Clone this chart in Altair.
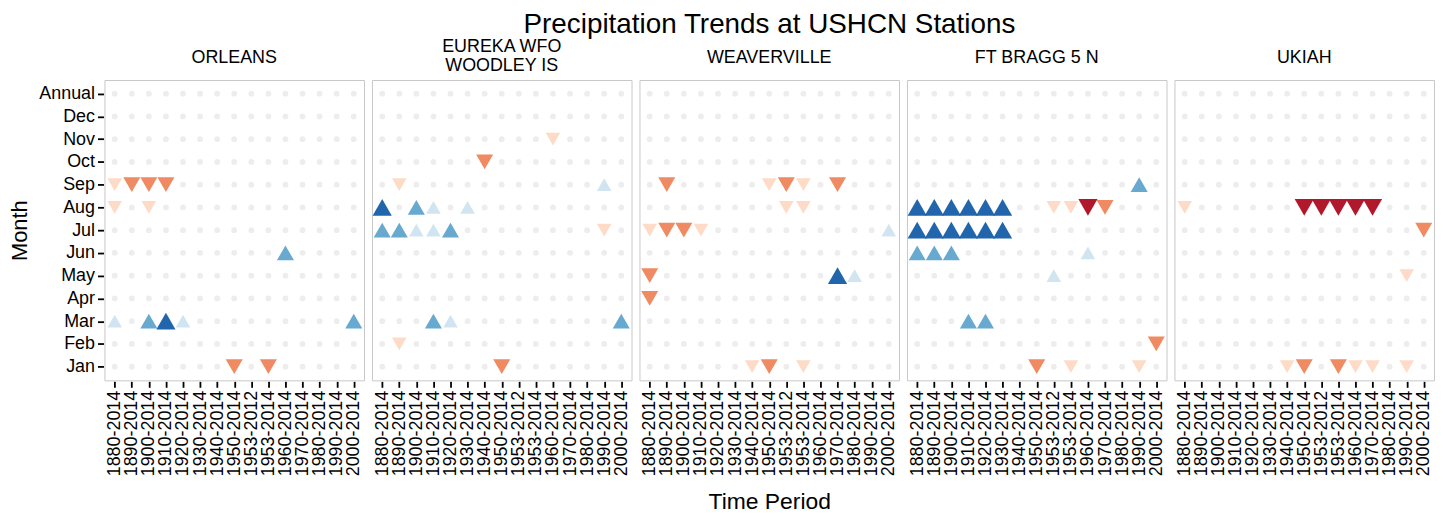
import altair as alt
import pandas as pd

stations = ["ORLEANS", "EUREKA WFO|WOODLEY IS", "WEAVERVILLE", "FT BRAGG 5 N", "UKIAH"]
periods = ["1880-2014", "1890-2014", "1900-2014", "1910-2014", "1920-2014",
           "1930-2014", "1940-2014", "1950-2014", "1953-2012", "1953-2014",
           "1960-2014", "1970-2014", "1980-2014", "1990-2014", "2000-2014"]
months = ["Jan", "Feb", "Mar", "Apr", "May", "Jun", "Jul", "Aug", "Sep",
          "Oct", "Nov", "Dec", "Annual"]

# (month, period, trend class): sign = direction (+ up / - down), magnitude = strength 1..3
orleans = [
    ("Sep", "1880-2014", -1), ("Sep", "1890-2014", -2), ("Sep", "1900-2014", -2), ("Sep", "1910-2014", -2),
    ("Aug", "1880-2014", -1), ("Aug", "1900-2014", -1),
    ("Jun", "1960-2014", 2),
    ("Mar", "1880-2014", 1), ("Mar", "1900-2014", 2), ("Mar", "1910-2014", 3), ("Mar", "1920-2014", 1),
    ("Mar", "2000-2014", 2),
    ("Jan", "1950-2014", -2), ("Jan", "1953-2014", -2),
]
eureka = [
    ("Nov", "1960-2014", -1),
    ("Oct", "1940-2014", -2),
    ("Sep", "1890-2014", -1), ("Sep", "1990-2014", 1),
    ("Aug", "1880-2014", 3), ("Aug", "1900-2014", 2), ("Aug", "1910-2014", 1), ("Aug", "1930-2014", 1),
    ("Jul", "1880-2014", 2), ("Jul", "1890-2014", 2), ("Jul", "1900-2014", 1), ("Jul", "1910-2014", 1),
    ("Jul", "1920-2014", 2), ("Jul", "1990-2014", -1),
    ("Mar", "1910-2014", 2), ("Mar", "1920-2014", 1), ("Mar", "2000-2014", 2),
    ("Feb", "1890-2014", -1),
    ("Jan", "1950-2014", -2),
]
weaverville = [
    ("Sep", "1890-2014", -2), ("Sep", "1950-2014", -1), ("Sep", "1953-2012", -2), ("Sep", "1953-2014", -1),
    ("Sep", "1970-2014", -2),
    ("Aug", "1953-2012", -1), ("Aug", "1953-2014", -1),
    ("Jul", "1880-2014", -1), ("Jul", "1890-2014", -2), ("Jul", "1900-2014", -2), ("Jul", "1910-2014", -1),
    ("Jul", "2000-2014", 1),
    ("May", "1880-2014", -2), ("May", "1970-2014", 3), ("May", "1980-2014", 1),
    ("Apr", "1880-2014", -2),
    ("Jan", "1940-2014", -1), ("Jan", "1950-2014", -2), ("Jan", "1953-2014", -1),
]
ftbragg = [
    ("Sep", "1990-2014", 2),
    ("Aug", "1880-2014", 3), ("Aug", "1890-2014", 3), ("Aug", "1900-2014", 3), ("Aug", "1910-2014", 3),
    ("Aug", "1920-2014", 3), ("Aug", "1930-2014", 3),
    ("Aug", "1953-2012", -1), ("Aug", "1953-2014", -1), ("Aug", "1960-2014", -3), ("Aug", "1970-2014", -2),
    ("Jul", "1880-2014", 3), ("Jul", "1890-2014", 3), ("Jul", "1900-2014", 3), ("Jul", "1910-2014", 3),
    ("Jul", "1920-2014", 3), ("Jul", "1930-2014", 3),
    ("Jun", "1880-2014", 2), ("Jun", "1890-2014", 2), ("Jun", "1900-2014", 2), ("Jun", "1960-2014", 1),
    ("May", "1953-2012", 1),
    ("Mar", "1910-2014", 2), ("Mar", "1920-2014", 2),
    ("Feb", "2000-2014", -2),
    ("Jan", "1950-2014", -2), ("Jan", "1953-2014", -1), ("Jan", "1990-2014", -1),
]
ukiah = [
    ("Aug", "1880-2014", -1), ("Aug", "1950-2014", -3), ("Aug", "1953-2012", -3), ("Aug", "1953-2014", -3),
    ("Aug", "1960-2014", -3), ("Aug", "1970-2014", -3),
    ("Jul", "2000-2014", -2),
    ("May", "1990-2014", -1),
    ("Jan", "1940-2014", -1), ("Jan", "1950-2014", -2), ("Jan", "1953-2014", -2), ("Jan", "1960-2014", -1),
    ("Jan", "1970-2014", -1), ("Jan", "1990-2014", -1),
]
trends = [orleans, eureka, weaverville, ftbragg, ukiah]

class_levels = [-3, -2, -1, 1, 2, 3]
class_colors = ["#b2182b", "#ef8a62", "#fddbc7", "#d1e5f0", "#67a9cf", "#2166ac"]

rows = []
for st, tr in zip(stations, trends):
    lookup = {(m, p): v for m, p, v in tr}
    for m in months:
        for p in periods:
            v = lookup.get((m, p), 0)
            rows.append({
                "station": st, "month": m, "period": p, "level": v,
                "mag": abs(v), "dir": "up" if v > 0 else "down",
            })
df = pd.DataFrame(rows)

FONT = "Liberation Sans"
GRID = "#f0f0f0"
W, H = 261, 302

x_enc = alt.X("period:N", sort=periods,
              scale=alt.Scale(type="point", padding=0.6),
              axis=alt.Axis(title=None, labelAngle=270, labelFontSize=18,
                            labelColor="black", tickColor="black", tickSize=6,
                            tickWidth=1.8, labelPadding=3, domain=False,
                            gridColor=GRID, labelFont=FONT))
y_enc = alt.Y("month:N", sort=list(reversed(months)),
              scale=alt.Scale(type="point", padding=0.6),
              axis=alt.Axis(title="Month", titleFontSize=22, titleFontWeight="normal",
                            titleColor="black", titlePadding=7, titleFont=FONT,
                            labelFontSize=18, labelColor="black", tickColor="black",
                            tickSize=6, tickWidth=1.8, labelPadding=3, domain=False,
                            gridColor=GRID, labelFont=FONT))

bg = alt.Chart().mark_circle(color="#ededed", size=34, opacity=1).encode(x=x_enc, y=y_enc)

tri = alt.Chart().transform_filter("datum.level != 0").mark_point(
    filled=True, opacity=1, strokeWidth=0, clip=True
).encode(
    x=x_enc, y=y_enc,
    shape=alt.Shape("dir:N", scale=alt.Scale(domain=["up", "down"],
                                             range=["triangle-up", "triangle-down"]), legend=None),
    color=alt.Color("level:O", scale=alt.Scale(domain=class_levels, range=class_colors), legend=None),
    size=alt.Size("mag:O", scale=alt.Scale(domain=[1, 2, 3], range=[215, 373, 506]), legend=None),
)

# panel strip labels (one row per panel), drawn above each panel
one_row = "datum.month == 'Annual' && datum.period == '1880-2014'"
strip_base = alt.Chart().transform_filter(one_row).transform_calculate(
    line1="split(datum.station, '|')[0]",
    line2="length(split(datum.station, '|')) > 1 ? split(datum.station, '|')[1] : ''",
)
text_kw = dict(fontSize=18, font=FONT, color="black", align="center", baseline="middle")
strip_single = strip_base.transform_filter("indexof(datum.station, '|') < 0").mark_text(**text_kw).encode(
    x=alt.value(W / 2), y=alt.value(-22), text="line1:N")
strip_top = strip_base.transform_filter("indexof(datum.station, '|') >= 0").mark_text(**text_kw).encode(
    x=alt.value(W / 2), y=alt.value(-33), text="line1:N")
strip_bottom = strip_base.transform_filter("indexof(datum.station, '|') >= 0").mark_text(**text_kw).encode(
    x=alt.value(W / 2), y=alt.value(-14), text="line2:N")

chart = alt.layer(bg, tri, strip_single, strip_top, strip_bottom, data=df).properties(
    width=W, height=H
).facet(
    column=alt.Column("station:N", sort=stations,
                      header=alt.Header(labels=False, title="Time Period", titleOrient="bottom",
                                        titleFontSize=23, titleFontWeight="normal",
                                        titleColor="black", titleFont=FONT, titlePadding=4)),
    spacing=6,
).properties(
    padding={"top": 1, "left": 0, "right": 0, "bottom": 0},
    title=alt.TitleParams("Precipitation Trends at USHCN Stations", fontSize=28,
                          fontWeight="normal", color="black", font=FONT,
                          anchor="middle", offset=-1, dx=48)
).configure(font=FONT).configure_view(stroke="#c8c8c8", strokeWidth=1)

chart.save("out.html", embed_options={"renderer": "svg", "actions": False})
